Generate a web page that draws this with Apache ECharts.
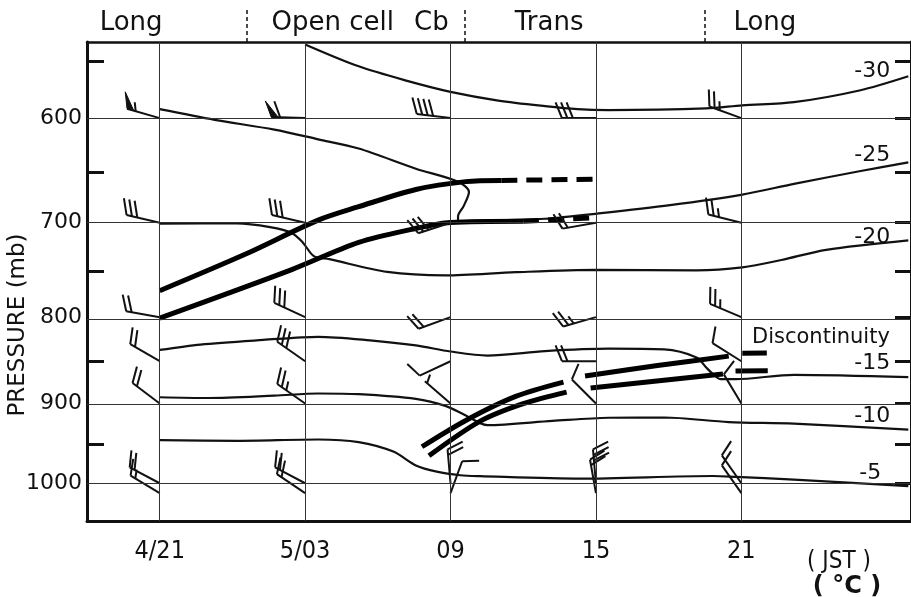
<!DOCTYPE html>
<html><head><meta charset="utf-8">
<script src="https://cdn.jsdelivr.net/npm/echarts@6/dist/echarts.min.js"></script>
<style>html,body{margin:0;padding:0;background:#fff}#c{width:911px;height:597px}</style>
</head><body><div id="c"></div>
<script>
// vertical coordinate: p^0.286 (pressure axis of the original figure)
const KAPPA = 0.286;
const T = p => Math.pow(p, KAPPA);
const Tinv = v => Math.pow(v, 1 / KAPPA);

// axes
const timeTicks = [0, 6, 12, 18, 24];            // hours after 4/21 JST
const timeLabels = ['4/21', '5/03', '09', '15', '21'];
const pressureLabels = [600, 700, 800, 900, 1000];
const pressureMinor = [550, 650, 750, 850, 950];
const pressureAll = [550, 600, 650, 700, 750, 800, 850, 900, 950, 1000];
const pRange = [534, 1050];
const tRange = [-3, 31];

// phases along the top
const phaseNames = ['Long', 'Open cell', 'Cb', 'Trans', 'Long'];
const phaseAt = [-1.18, 7.14, 11.21, 16.07, 24.97];
const phaseBreaks = [3.59, 12.58, 22.51];

// isotherms [hour, pressure mb]
const isoM30 = [[6.0,536],[8.21,554.5],[10.21,567],[12.0,576.6],[13.97,584.3],[15.9,589.3],[17.24,592],[18.52,592.8],[22.55,591.3],[24.04,588.5],[26.17,585.7],[28.87,575.4],[30.89,563]];
const isoM25 = [[0,592],[2.27,601.6],[4.73,610.5],[6.54,619.4],[8.21,628],[10.57,647],[12.31,659.5],[12.76,669.4],[12.54,683.4],[12.31,693.5],[12.31,698.6],[14.1,697.3],[15.9,696],[18.12,690.6],[21.06,682.4],[24.04,672],[26.17,661.6],[28.87,649.4],[30.89,641]];
const isoM20 = [[0,701],[3.18,700.7],[4.55,704.5],[5.45,710.4],[5.91,720.3],[6.36,734.3],[7.0,737.5],[9.39,750.9],[11.79,754.6],[14.69,751.2],[18.0,748.8],[22.15,749.3],[24.04,746.1],[25.65,738.3],[27.5,727.7],[30.89,718]];
const isoM15 = [[0,837],[1.68,830.8],[4.27,825.6],[6.54,822],[8.68,826],[10.57,831.8],[12.0,838.8],[13.52,843.4],[15.9,838.3],[18.52,835.5],[20.82,836.4],[22.15,845.6],[22.55,857.3],[22.83,865],[23.15,871],[23.76,871],[26.17,865.8],[30.89,868.6]];
const isoM10 = [[0,892.5],[2.0,893.4],[4.73,890.6],[6.54,888],[8.21,888.8],[10.57,894.4],[11.79,902.9],[12.63,914.5],[13.52,926.4],[16.21,921.2],[18.52,917.3],[20.82,917],[23.48,922.6],[26.17,924.6],[30.89,932]];
const isoM5 = [[0,945],[3.18,945.8],[6.54,944.2],[8.21,947.4],[9.64,959.4],[10.57,977],[11.43,985],[12.4,989.6],[13.21,990.8],[17.37,994],[22.83,990.6],[23.76,991.7],[26.17,995.3],[30.89,1003.8]];
const isoTemps = ['-30', '-25', '-20', '-15', '-10', '-5'];
const isoLabelAt = [[29.4,559],[29.4,634],[29.4,715],[29.4,852],[29.4,915],[29.32,987]];

// discontinuities (thick lines)
const upperTop = [[0,771],[3.5,732.6],[6.54,697.4],[8.21,684],[10.57,667],[12.63,659.4],[14.1,658.3]];
const upperTopDashed = [[14.1,658.3],[18.0,657]];
const upperBase = [[0,801],[5.45,748.4],[8.21,720],[10.39,706.7],[12.0,699.7],[15.0,698.5]];
const upperBaseDashed = [[15.0,698.5],[18.0,694.8]];
const lowerA = [[[10.82,953.3],[12.63,920.6],[14.69,891.5],[16.66,874.5]], [[17.55,867.2],[20.54,855],[23.48,844.1]], [[24.04,840.7],[25.05,840.5]]];
const lowerB = [[[11.11,964.8],[13.21,921.8],[15.0,900.2],[16.79,886.3]], [[17.78,881.4],[23.24,865]], [[23.76,861.3],[25.09,861.1]]];
const discLabelAt = [24.44, 823];

// wind barbs [hour, pressure, direction deg, speed kt]
const barbs = [
  [0,600,286,55],[0,700,283,30],[0,800,280,20],[0,850,300,20],[0,900,307,20],[0,1000,298,20],[0,1013,301,15],
  [6,600,272,60],[6,700,283,30],[6,800,295,30],[6,850,305,30],[6,900,305,25],[6,1000,298,20],[6,1013,304,20],
  [12,600,277,40],[12,700,252,30],[12,800,250,20],[12,850,245,10],[12,900,311,5],[12,1000,355,20],[12,1013,20,10],
  [18,600,270,30],[18,700,260,20],[18,800,254,25],[18,850,270,20],[18,900,315,10],[18,1000,355,30],[18,1013,350,20],
  [24,600,290,25],[24,700,284,25],[24,800,293,25],[24,850,302,10],[24,900,329,10],[24,1000,325,10],[24,1013,325,10]
];

const INK = '#111111';
const toXY = pts => pts.map(([h, p]) => [h, T(p)]);
const nearestIdx = (arr, v) => { let b = 0; for (let i = 1; i < arr.length; i++) if (Math.abs(arr[i] - v) < Math.abs(arr[b] - v)) b = i; return b; };

const series = [];
series.push({
  type: 'line', data: [], silent: true, z: 1,
  markLine: {
    silent: true, symbol: ['none', 'none'], label: { show: false }, animation: false,
    lineStyle: { color: '#333', width: 1, type: 'solid' },
    emphasis: { disabled: true },
    data: [...pressureLabels.map(p => ({ yAxis: T(p) })), ...timeTicks.map(t => ({ xAxis: t }))]
  }
});
[isoM30, isoM25, isoM20, isoM15, isoM10, isoM5].forEach(d => series.push({
  type: 'line', data: toXY(d), smooth: 0.3, symbol: 'none', silent: true, z: 2,
  lineStyle: { color: INK, width: 2.2 }
}));
const thick = (d, dashed) => ({
  type: 'line', data: toXY(d), smooth: 0.3, symbol: 'none', silent: true, z: 3,
  lineStyle: { color: '#000', width: 5, type: dashed ? [16, 9] : 'solid', cap: 'butt' }
});
series.push(thick(upperTop), thick(upperTopDashed, true), thick(upperBase), thick(upperBaseDashed, true));
lowerA.forEach(s => series.push(thick(s)));
lowerB.forEach(s => series.push(thick(s)));

series.push({
  type: 'custom', z: 4, silent: true,
  data: barbs.map(([h, p, d, k]) => [h, T(p), d, k]),
  renderItem: (params, api) => {
    const s = api.coord([api.value(0), api.value(1)]);
    const rad = api.value(2) * Math.PI / 180, kt = api.value(3);
    const ux = Math.sin(rad), uy = -Math.cos(rad);
    const nx = -uy, ny = ux;
    const a = 68 * Math.PI / 180;
    const fx = Math.cos(a) * ux + Math.sin(a) * nx, fy = Math.cos(a) * uy + Math.sin(a) * ny;
    const L = 34, FL = 17, HL = 9, SP = 5.5, PW = 7;
    const tx = s[0] + ux * L, ty = s[1] + uy * L;
    const st = { stroke: INK, lineWidth: 2 };
    const ch = [{ type: 'line', shape: { x1: s[0], y1: s[1], x2: tx, y2: ty }, style: st }];
    let rem = kt, pos = 0;
    while (rem >= 50) {
      const ax = tx - ux * pos, ay = ty - uy * pos;
      const bx = tx - ux * (pos + PW), by = ty - uy * (pos + PW);
      ch.push({ type: 'polygon', shape: { points: [[ax, ay], [ax + fx * FL, ay + fy * FL], [bx, by]] }, style: { fill: INK, stroke: INK, lineWidth: 1 } });
      pos += PW + 2; rem -= 50;
    }
    while (rem >= 10) {
      const px = tx - ux * pos, py = ty - uy * pos;
      ch.push({ type: 'line', shape: { x1: px, y1: py, x2: px + fx * FL, y2: py + fy * FL }, style: st });
      pos += SP; rem -= 10;
    }
    if (rem >= 5) {
      if (pos === 0) pos = 3;
      const px = tx - ux * pos, py = ty - uy * pos;
      ch.push({ type: 'line', shape: { x1: px, y1: py, x2: px + fx * HL, y2: py + fy * HL }, style: st });
    }
    return { type: 'group', children: ch };
  }
});

series.push({
  type: 'scatter', z: 5, silent: true, symbolSize: 0, itemStyle: { opacity: 1 },
  data: isoLabelAt.map(([h, p], i) => [h, T(p), isoTemps[i]]),
  label: { show: true, position: 'inside', formatter: q => q.data[2], color: INK, opacity: 1, fontSize: 22, fontFamily: 'DejaVu Sans' }
});
series.push({
  type: 'scatter', z: 5, silent: true, symbolSize: 0, itemStyle: { opacity: 1 },
  data: [[discLabelAt[0], T(discLabelAt[1]), 'Discontinuity']],
  label: { show: true, position: 'right', distance: 0, formatter: q => q.data[2], color: INK, opacity: 1, fontSize: 21, fontFamily: 'DejaVu Sans' }
});

const option = {
  animation: false,
  backgroundColor: '#fff',
  grid: { left: 87, top: 42, right: -6, bottom: 76, containLabel: false },
  xAxis: [{
    type: 'value', position: 'bottom', min: tRange[0], max: tRange[1],
    axisLine: { show: true, onZero: false, lineStyle: { color: INK, width: 3 } },
    axisTick: { show: false }, splitLine: { show: false },
    axisLabel: { show: true, customValues: timeTicks, margin: 18, formatter: v => timeLabels[nearestIdx(timeTicks, v)],
      color: INK, fontSize: 25, fontFamily: '"Liberation Sans Narrow", "DejaVu Sans Condensed", sans-serif' }
  }, {
    type: 'value', position: 'top', min: tRange[0], max: tRange[1],
    axisLine: { show: true, onZero: false, lineStyle: { color: INK, width: 2.5 } },
    axisTick: { show: true, customValues: phaseBreaks, inside: false, length: 33, lineStyle: { color: INK, width: 1.5, type: [4, 3] } },
    splitLine: { show: false },
    axisLabel: { show: true, customValues: phaseAt, margin: 6, formatter: v => phaseNames[nearestIdx(phaseAt, v)],
      color: INK, fontSize: 26, fontFamily: 'DejaVu Sans' }
  }],
  yAxis: [{
    type: 'value', position: 'left', inverse: true, min: T(pRange[0]), max: T(pRange[1]),
    axisLine: { show: true, onZero: false, lineStyle: { color: INK, width: 3 } },
    axisTick: { show: true, customValues: pressureMinor.map(T), inside: true, length: 17, lineStyle: { color: INK, width: 3 } },
    splitLine: { show: false },
    axisLabel: { show: true, customValues: pressureLabels.map(T), margin: 5, formatter: v => String(Math.round(Tinv(v))),
      color: INK, fontSize: 22, fontFamily: 'DejaVu Sans' }
  }, {
    type: 'value', position: 'right', inverse: true, min: T(pRange[0]), max: T(pRange[1]),
    axisLine: { show: true, onZero: false, lineStyle: { color: INK, width: 3 } },
    axisTick: { show: true, customValues: pressureAll.map(T), inside: true, length: 16, lineStyle: { color: INK, width: 3 } },
    splitLine: { show: false }, axisLabel: { show: false }
  }],
  graphic: [
    { type: 'text', x: 18, y: 325, rotation: Math.PI / 2, silent: true,
      style: { text: 'PRESSURE (mb)', fontSize: 23, fontFamily: 'DejaVu Sans', fill: INK, align: 'center', verticalAlign: 'middle', textAlign: 'center', textVerticalAlign: 'middle' } },
    { type: 'text', x: 839, y: 562, silent: true,
      style: { text: '( JST )', fontSize: 24, fontFamily: '"Liberation Sans Narrow", "DejaVu Sans Condensed", sans-serif', fill: INK, align: 'center', verticalAlign: 'middle', textAlign: 'center', textVerticalAlign: 'middle' } },
    { type: 'text', x: 847, y: 587, silent: true,
      style: { text: '( °C )', fontSize: 24, fontWeight: 'bold', fontFamily: 'DejaVu Sans', fill: INK, align: 'center', verticalAlign: 'middle', textAlign: 'center', textVerticalAlign: 'middle' } }
  ],
  series
};
const chart = echarts.init(document.getElementById('c'));
chart.setOption(option);
</script>
</body></html>
